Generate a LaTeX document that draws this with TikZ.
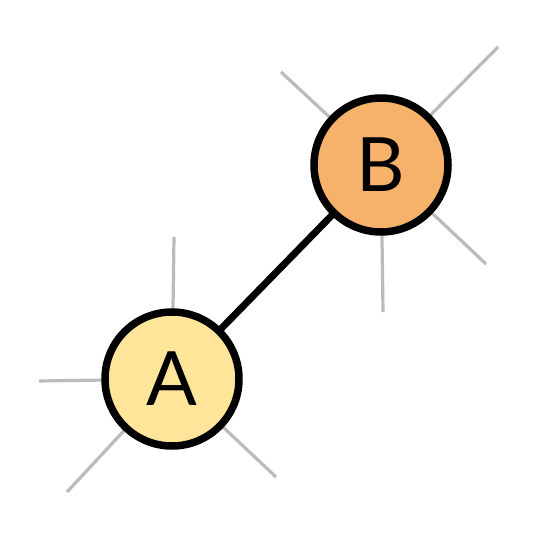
\documentclass[tikz,border=0pt]{standalone}
\usepackage{fontspec}
\setmainfont{Lato}
\definecolor{fillA}{HTML}{FFE599}
\definecolor{fillB}{HTML}{F6B26B}
\definecolor{stub}{HTML}{BBBBBB}
\begin{document}
\begin{tikzpicture}[x=1pt,y=-1pt,
  vert/.style={circle,draw=black,line width=7.5pt,minimum size=134pt,inner sep=0pt,font=\fontsize{75}{75}\selectfont},
  stubline/.style={draw=stub,line width=3.2pt},
  edge/.style={draw=black,line width=7pt}]
\useasboundingbox (0,0) rectangle (537,537);
\coordinate (a1) at (174,237);
\coordinate (a2) at (39,381);
\coordinate (a3) at (67,492);
\coordinate (a4) at (276,477);
\coordinate (b1) at (281,72);
\coordinate (b2) at (498,47);
\coordinate (b3) at (486,264);
\coordinate (b4) at (383,312);
\coordinate (ca) at (172,379);
\coordinate (cb) at (381,165);
\foreach \c in {a1,a2,a3,a4} \draw[stubline] (ca) -- (\c);
\foreach \c in {b1,b2,b3,b4} \draw[stubline] (cb) -- (\c);
\draw[edge] (ca) -- (cb);
\node[vert,fill=fillA] (A) at (ca) {A};
\node[vert,fill=fillB] (B) at (cb) {B};
\end{tikzpicture}
\end{document}
